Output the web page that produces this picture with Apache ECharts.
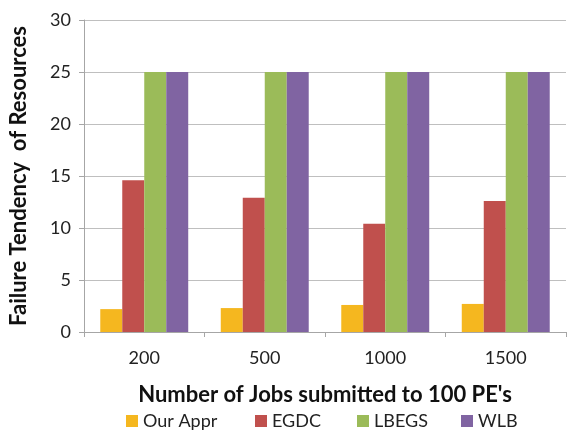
<!DOCTYPE html>
<html>
<head>
<meta charset="utf-8">
<script src="https://cdn.jsdelivr.net/npm/echarts@6/dist/echarts.min.js"></script>
<style>
  html, body { margin: 0; padding: 0; background: #fff; }
  #cn { width: 569px; height: 434px; }
</style>
</head>
<body>
<div id="cn"></div>
<script>
'use strict';

const categories = ['200', '500', '1000', '1500'];
const seriesNames = ['Our Appr', 'EGDC', 'LBEGS', 'WLB'];
const ourAppr = [2.2, 2.3, 2.6, 2.7];
const egdc = [14.6, 12.9, 10.4, 12.6];
const lbegs = [25, 25, 25, 25];
const wlb = [25, 25, 25, 25];
const colors = ['#f5b71f', '#c0504d', '#9bbb59', '#8064a2'];
const legendLeft = [124, 253, 355, 459];

const FONT = 'Lato';

const chart = echarts.init(document.getElementById('cn'));

const allData = [ourAppr, egdc, lbegs, wlb];

const option = {
    animation: false,
    textStyle: { fontFamily: FONT },
    grid: {
        left: 80,
        top: 20,
        right: 3,
        bottom: 102
    },
    legend: seriesNames.map((name, i) => ({
        data: [name],
        left: legendLeft[i],
        top: 410,
        padding: 2,
        itemWidth: 12,
        itemHeight: 12,
        itemGap: 0,
        icon: 'rect',
        textStyle: { fontSize: 18, color: '#222', fontFamily: FONT }
    })),
    xAxis: {
        type: 'category',
        data: categories,
        name: "Number of Jobs submitted to 100 PE's",
        nameLocation: 'middle',
        nameGap: 52,
        nameTextStyle: { fontSize: 22, fontWeight: 'bold', color: '#111', fontFamily: FONT },
        axisLine: { lineStyle: { color: '#a6a6a6' } },
        axisTick: { show: true, length: 5, lineStyle: { color: '#a6a6a6' } },
        axisLabel: { fontSize: 18, color: '#222', margin: 17 }
    },
    yAxis: {
        type: 'value',
        min: 0,
        max: 30,
        interval: 5,
        name: 'Failure Tendency  of Resources',
        nameLocation: 'middle',
        nameGap: 54,
        nameTextStyle: { fontSize: 22, fontWeight: 'bold', color: '#111', fontFamily: FONT },
        axisLine: { show: true, lineStyle: { color: '#a6a6a6' } },
        axisTick: { show: true, length: 5, lineStyle: { color: '#a6a6a6' } },
        axisLabel: { fontSize: 18, color: '#222', margin: 13 },
        splitLine: { lineStyle: { color: '#bfbfbf' } }
    },
    series: seriesNames.map((name, i) => ({
        name: name,
        type: 'bar',
        data: allData[i],
        barGap: '0%',
        barCategoryGap: '27%',
        itemStyle: { color: colors[i] }
    }))
};

chart.setOption(option);
</script>
</body>
</html>
